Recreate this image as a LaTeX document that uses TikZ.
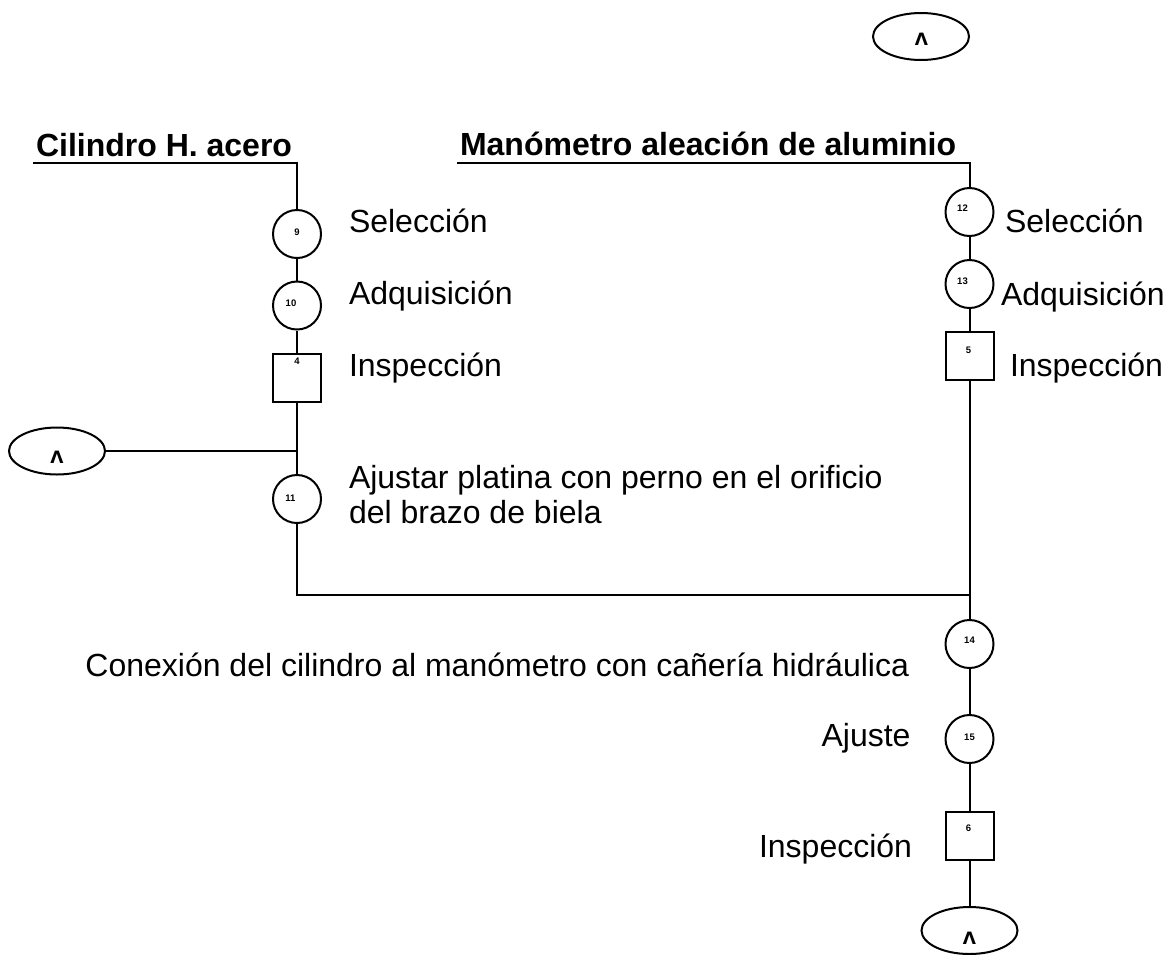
\documentclass[tikz,border=0pt]{standalone}
\usepackage{fontspec}
\setmainfont{Liberation Sans}
\newfontfamily\caretfont{DejaVu Sans}
\usetikzlibrary{shapes.geometric}
\begin{document}
\begin{tikzpicture}[x=1pt,y=-1pt,line width=2pt,
  op/.style={circle,draw,minimum size=48pt,inner sep=0pt},
  insp/.style={rectangle,draw,minimum size=48pt,inner sep=0pt},
  conn/.style={ellipse,draw,minimum width=96pt,minimum height=47pt,inner sep=0pt},
  num/.style={font=\fontsize{9.5}{10}\selectfont\bfseries,inner sep=0pt},
  lbl/.style={font=\fontsize{32}{35}\selectfont,inner sep=0pt},
  hdr/.style={font=\fontsize{32}{35}\selectfont\bfseries,inner sep=0pt},
  caret/.style={font=\caretfont\bfseries\fontsize{17}{17}\selectfont,inner sep=0pt}]
\useasboundingbox (0,0) rectangle (1169,954);

% connectors (ellipses)
\node[conn] (c1) at (921,36.5) {};
\node[caret] (k1) at (921.5,39.5) {Λ};
\node[conn] (c2) at (57,451) {};
\node[caret] (k2) at (57,457) {Λ};
\node[conn] (c3) at (969.5,930.5) {};
\node[caret] (k3) at (969.5,938) {Λ};

% left column
\node[op] (n9) at (297,234) {};
\node[num] (t9) at (297,232) {9};
\node[op] (n10) at (297,305.5) {};
\node[num] (t10) at (291,303.3) {10};
\node[insp] (s4) at (297,378) {};
\node[num] (t4) at (297,361.7) {4};
\node[op] (n11) at (297,499) {};
\node[num] (t11) at (290.5,498.3) {11};

% right column
\node[op] (n12) at (969.5,212) {};
\node[num] (t12) at (962.5,208.5) {12};
\node[op] (n13) at (969.5,284) {};
\node[num] (t13) at (962.5,281.7) {13};
\node[insp] (s5) at (969.5,356) {};
\node[num] (t5) at (968.5,350) {5};
\node[op] (n14) at (969.5,644) {};
\node[num] (t14) at (969.5,640.7) {14};
\node[op] (n15) at (969.5,739) {};
\node[num] (t15) at (969.5,737.3) {15};
\node[insp] (s6) at (969.5,836) {};
\node[num] (t6) at (968.5,828.3) {6};

% corner / junction points
\coordinate (ul) at (33,163);
\coordinate (tl) at (297,163);
\coordinate (ur) at (457,163);
\coordinate (tr) at (969.5,163);
\coordinate (j1) at (297,451);
\coordinate (j2) at (297,595);
\coordinate (j3) at (969.5,595);

% lines
\draw (ul) -- (tl) -- (n9);
\draw (n9) -- (n10);
\draw (n10) -- (s4);
\draw (s4) -- (n11);
\draw (c2) -- (j1);
\draw (n11) -- (j2) -- (j3);
\draw (ur) -- (tr) -- (n12);
\draw (n12) -- (n13);
\draw (n13) -- (s5);
\draw (s5) -- (n14);
\draw (n14) -- (n15);
\draw (n15) -- (s6);
\draw (s6) -- (c3);

% headers
\node[hdr,anchor=base west] (h1) at (35,156) {Cilindro H. acero};
\node[hdr,anchor=base west] (h2) at (459,155) {Manómetro aleación de aluminio};

% labels
\node[lbl,anchor=base west] (l9) at (348,232.5) {Selección};
\node[lbl,anchor=base west] (l10) at (348,304) {Adquisición};
\node[lbl,anchor=base west] (l4) at (348,376) {Inspección};
\node[lbl,anchor=base west] (l11) at (348,488.3) {\vtop{\hbox{Ajustar platina con perno en el orificio}\hbox{del brazo de biela}}};
\node[lbl,anchor=base west] (l12) at (1004,232) {Selección};
\node[lbl,anchor=base west] (l13) at (1000,305) {Adquisición};
\node[lbl,anchor=base west] (l5) at (1009,376.5) {Inspección};
\node[lbl,anchor=base east] (l14) at (910,676) {Conexión del cilindro al manómetro con cañería hidráulica};
\node[lbl,anchor=base east] (l15) at (911.5,746.7) {Ajuste};
\node[lbl,anchor=base east] (l6) at (913,857.3) {Inspección};
\end{tikzpicture}
\end{document}
